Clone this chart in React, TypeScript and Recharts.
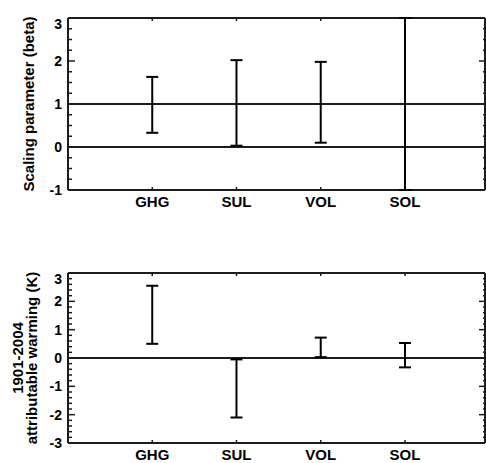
import { ComposedChart, Scatter, ErrorBar, XAxis, YAxis, ReferenceLine, ReferenceDot } from "recharts"

const categories = ["GHG", "SUL", "VOL", "SOL"]
const categoryPos = [1, 2, 3, 4]

// scaling factors (beta), 5-95% range
const betaLow = [0.33, 0.03, 0.1, -2.5]
const betaHigh = [1.63, 2.02, 1.98, 4.5]

// attributable warming 1901-2004 (K)
const warmLow = [0.5, -2.1, 0.03, -0.33]
const warmHigh = [2.55, -0.05, 0.72, 0.53]

const betaTicks = [-1, -0.75, -0.5, -0.25, 0, 0.25, 0.5, 0.75, 1, 1.25, 1.5, 1.75, 2, 2.25, 2.5, 2.75, 3]
const warmTicks = [
  -3, -2.8, -2.6, -2.4, -2.2, -2, -1.8, -1.6, -1.4, -1.2, -1, -0.8, -0.6, -0.4, -0.2, 0,
  0.2, 0.4, 0.6, 0.8, 1, 1.2, 1.4, 1.6, 1.8, 2, 2.2, 2.4, 2.6, 2.8, 3,
]

const FONT = "Liberation Sans, Arial, Helvetica, sans-serif"
const INK = "#1c1c1c"

// layout: one chart, two stacked frames sharing the x axis
const W = 486
const H = 463
const MARGIN = { top: 18, right: 1, bottom: 0, left: 68 }
const X_AXIS_H = 20
const PLOT_TOP = MARGIN.top
const PLOT_BOTTOM = H - X_AXIS_H
const PLOT_W = W - MARGIN.left - MARGIN.right
const TOP_FRAME_BOTTOM = 190
const LOW_FRAME_TOP = 273
const X_DOMAIN: [number, number] = [0, 4.95]

const betaRange: [number, number] = [-1, 3]
const warmRange: [number, number] = [-3, 3]
const betaPx = (TOP_FRAME_BOTTOM - PLOT_TOP) / (betaRange[1] - betaRange[0])
const warmPx = (PLOT_BOTTOM - LOW_FRAME_TOP) / (warmRange[1] - warmRange[0])
const betaAxis: [number, number] = [betaRange[0] - (PLOT_BOTTOM - TOP_FRAME_BOTTOM) / betaPx, betaRange[1]]
const warmAxis: [number, number] = [warmRange[0], warmRange[1] + (LOW_FRAME_TOP - PLOT_TOP) / warmPx]

// ranges outside the plotted window are cut at the frame, as in the figure
function buildRows(low: number[], high: number[], range: [number, number]) {
  return categories.map((name, i) => {
    const lo = Math.max(low[i], range[0])
    const hi = Math.min(high[i], range[1])
    const mid = (lo + hi) / 2
    return { name, x: categoryPos[i], y: mid, err: [mid - lo, hi - mid] }
  })
}

const isMajor = (v: number) => Math.abs(v - Math.round(v)) < 1e-6
const xUnits = (px: number) => (px * (X_DOMAIN[1] - X_DOMAIN[0])) / PLOT_W

const txt = { fontFamily: FONT, fontWeight: 700, fill: "#000" }

function BottomTick(props: any) {
  const { x, y, payload } = props
  return (
    <text x={x} y={y + 17} textAnchor="middle" fontSize={15} {...txt}>
      {categories[categoryPos.indexOf(payload.value)]}
    </text>
  )
}

function AxisTitle({ viewBox, lines, xs }: { viewBox: any; lines: string[]; xs: number[] }) {
  const cy = viewBox.y + viewBox.height / 2
  return (
    <g>
      {lines.map((t, i) => (
        <text
          key={t}
          x={xs[i]}
          y={cy}
          transform={`rotate(-90 ${xs[i]} ${cy})`}
          textAnchor="middle"
          dominantBaseline="central"
          fontSize={15}
          {...txt}
        >
          {t}
        </text>
      ))}
    </g>
  )
}

interface PanelDef {
  id: string
  range: [number, number]
  px: number
  ticks: number[]
  refs: number[]
  low: number[]
  high: number[]
  title: string[]
  titleX: number[]
  catLabels: boolean
}

const panels: PanelDef[] = [
  {
    id: "beta",
    range: betaRange,
    px: betaPx,
    ticks: betaTicks,
    refs: [0, 1],
    low: betaLow,
    high: betaHigh,
    title: ["Scaling parameter (beta)"],
    titleX: [28],
    catLabels: true,
  },
  {
    id: "warm",
    range: warmRange,
    px: warmPx,
    ticks: warmTicks,
    refs: [0],
    low: warmLow,
    high: warmHigh,
    title: ["1901-2004", "attributable warming (K)"],
    titleX: [17, 31],
    catLabels: false,
  },
]

function renderPanel(p: PanelDef) {
  const [x0, x1] = X_DOMAIN
  const [y0, y1] = p.range
  const yUnits = (px: number) => px / p.px
  const frame = { stroke: INK, strokeWidth: 2, yAxisId: p.id, ifOverflow: "visible" as const }
  const tick = { stroke: INK, strokeWidth: 1.5, yAxisId: p.id, ifOverflow: "visible" as const }
  const hidden = { r: 1, fill: "none", stroke: "none", yAxisId: p.id }
  const out: any[] = []

  out.push(
    <ReferenceLine
      key={`${p.id}-fl`}
      segment={[{ x: x0, y: y0 }, { x: x0, y: y1 }]}
      {...frame}
      label={{ content: (lp: any) => <AxisTitle viewBox={lp.viewBox} lines={p.title} xs={p.titleX} /> }}
    />,
    <ReferenceLine key={`${p.id}-fr`} segment={[{ x: x1, y: y0 }, { x: x1, y: y1 }]} {...frame} />,
    <ReferenceLine key={`${p.id}-fb`} segment={[{ x: x0, y: y0 }, { x: x1, y: y0 }]} {...frame} />,
    <ReferenceLine key={`${p.id}-ft`} segment={[{ x: x0, y: y1 }, { x: x1, y: y1 }]} {...frame} />
  )

  p.refs.forEach((r) => {
    out.push(<ReferenceLine key={`${p.id}-h${r}`} segment={[{ x: x0, y: r }, { x: x1, y: r }]} {...frame} />)
  })

  p.ticks.forEach((v) => {
    const major = isMajor(v)
    out.push(
      <ReferenceLine key={`${p.id}-tl${v}`} segment={[{ x: x0, y: v }, { x: x0 + xUnits(major ? 7 : 4), y: v }]} {...tick} />,
      <ReferenceLine key={`${p.id}-tr${v}`} segment={[{ x: x1 - xUnits(major ? 6 : 2), y: v }, { x: x1, y: v }]} {...tick} />
    )
    if (major) {
      out.push(
        <ReferenceDot
          key={`${p.id}-lab${v}`}
          x={x0}
          y={v}
          {...hidden}
          label={{
            content: (lp: any) => {
              const cx = lp.viewBox.x + lp.viewBox.width / 2
              const cy = lp.viewBox.y + lp.viewBox.height / 2
              return (
                <text x={cx - 6} y={cy + (v === y1 ? 11 : 5)} textAnchor="end" fontSize={14} {...txt}>
                  {v}
                </text>
              )
            },
          }}
        />
      )
    }
  })

  categoryPos.forEach((c, i) => {
    out.push(
      <ReferenceLine key={`${p.id}-cb${c}`} segment={[{ x: c, y: y0 }, { x: c, y: y0 + yUnits(3) }]} {...tick} />,
      <ReferenceLine key={`${p.id}-ct${c}`} segment={[{ x: c, y: y1 - yUnits(3) }, { x: c, y: y1 }]} {...tick} />
    )
    if (p.catLabels) {
      out.push(
        <ReferenceDot
          key={`${p.id}-cat${c}`}
          x={c}
          y={y0}
          {...hidden}
          label={{
            content: (lp: any) => {
              const cx = lp.viewBox.x + lp.viewBox.width / 2
              const cy = lp.viewBox.y + lp.viewBox.height / 2
              return (
                <text x={cx} y={cy + 17} textAnchor="middle" fontSize={15} {...txt}>
                  {categories[i]}
                </text>
              )
            },
          }}
        />
      )
    }
  })

  out.push(
    <Scatter
      key={`${p.id}-err`}
      yAxisId={p.id}
      data={buildRows(p.low, p.high, p.range)}
      dataKey="y"
      isAnimationActive={false}
      shape={() => <g />}
    >
      <ErrorBar dataKey="err" direction="y" width={6} stroke="#000" strokeWidth={2} isAnimationActive={false} />
    </Scatter>
  )
  return out
}

export default function App() {
  return (
    <div style={{ position: "absolute", left: 0, top: 0, width: W, height: H, background: "#fff" }}>
      <ComposedChart width={W} height={H} margin={MARGIN}>
        <XAxis
          dataKey="x"
          type="number"
          domain={X_DOMAIN}
          ticks={categoryPos}
          interval={0}
          allowDataOverflow
          height={X_AXIS_H}
          axisLine={false}
          tickLine={false}
          tickSize={0}
          tickMargin={0}
          tick={<BottomTick />}
        />
        <YAxis yAxisId="beta" type="number" domain={betaAxis} allowDataOverflow hide />
        <YAxis yAxisId="warm" type="number" domain={warmAxis} allowDataOverflow hide />
        {panels.map((p) => renderPanel(p))}
      </ComposedChart>
    </div>
  )
}
